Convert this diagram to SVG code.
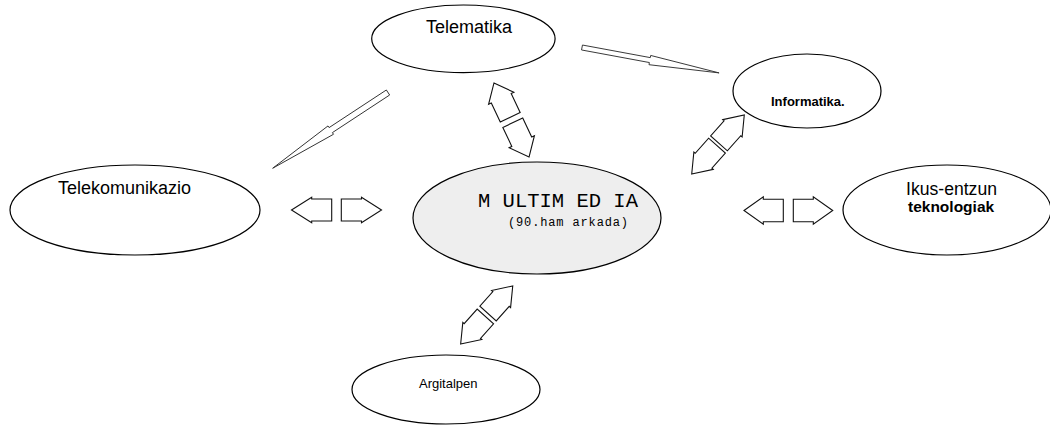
<svg xmlns="http://www.w3.org/2000/svg" width="1050" height="425" viewBox="0 0 1050 425">
<style>
.node{fill:#fff;stroke:#000;stroke-width:1.2}
.main{fill:#eeeeee;stroke:#000;stroke-width:1.2}
.lbl{font-family:"Liberation Sans",Arial,sans-serif;fill:#000}
.mono{font-family:"Liberation Mono","Courier New",monospace;fill:#000}
.arr{fill:#fff;stroke:#111;stroke-width:1.1;stroke-linejoin:miter}
.thin{fill:#fff;stroke:#333;stroke-width:0.9}
</style>
<rect width="1050" height="425" fill="#fff"/>
<g id="connectors">
  <polygon class="thin" transform="translate(582,47.5) rotate(10.5)" points="0,-2.5 69,-2.5 69,-4.7 139.4,0 69,4.7 69,2.5 0,2.5"/>
  <polygon class="thin" transform="translate(388,92.5) rotate(146.7)" points="0,-3 68.5,-3 68.5,-5 138,0 68.5,5 68.5,3 0,3"/>
  <g transform="translate(511.5,120) rotate(-25.3)">
    <polygon class="arr" points="0,-41 14,-24 11,-24 11,-3 -11,-3 -11,-24 -14,-24"/>
    <polygon class="arr" points="0,41 14,24 11,24 11,3 -11,3 -11,24 -14,24"/>
  </g>
  <g transform="translate(718,144.5) rotate(41.7)">
    <polygon class="arr" points="0,-39.5 13,-21.7 11.2,-21.7 11.2,-1.5 -11.2,-1.5 -11.2,-21.7 -13,-21.7"/>
    <polygon class="arr" points="0,39.5 13,21.7 11.2,21.7 11.2,1.5 -11.2,1.5 -11.2,21.7 -13,21.7"/>
  </g>
  <g transform="translate(486.7,315) rotate(41.9)">
    <polygon class="arr" points="0,-39 12.8,-21.5 11,-21.5 11,-2 -11,-2 -11,-21.5 -12.8,-21.5"/>
    <polygon class="arr" points="0,39 12.8,21.5 11,21.5 11,2 -11,2 -11,21.5 -12.8,21.5"/>
  </g>
  <polygon class="arr" points="291.5,210 311.7,197.2 311.7,199 331.7,199 331.7,221 311.7,221 311.7,222.8"/>
  <polygon class="arr" points="381.5,210 361.5,197.2 361.5,199 341.3,199 341.3,221 361.5,221 361.5,222.8"/>
  <polygon class="arr" points="744,210.5 763.3,196.7 763.3,199.3 783.3,199.3 783.3,221.7 763.3,221.7 763.3,224.3"/>
  <polygon class="arr" points="832.7,210.5 813.3,196.7 813.3,199.3 793.3,199.3 793.3,221.7 813.3,221.7 813.3,224.3"/>
</g>
<g id="telematika">
  <ellipse class="node" cx="463.4" cy="38.8" rx="91.7" ry="33.8"/>
  <text class="lbl" x="426" y="33" font-size="18">Telematika</text>
</g>
<g id="informatika">
  <ellipse class="node" cx="807" cy="91" rx="74" ry="37"/>
  <text class="lbl" x="771" y="106" font-size="13" font-weight="bold">Informatika.</text>
</g>
<g id="telekomunikazio">
  <ellipse class="node" cx="135" cy="210" rx="125" ry="45"/>
  <text class="lbl" x="58" y="194" font-size="18">Telekomunikazio</text>
</g>
<g id="multimedia">
  <ellipse class="main" cx="537" cy="218" rx="124" ry="56"/>
  <text class="mono" x="478" y="207" font-size="20.5" textLength="160" lengthAdjust="spacingAndGlyphs" xml:space="preserve">M ULTIM ED IA</text>
  <text class="mono" x="508" y="226" font-size="12" textLength="120" lengthAdjust="spacing" xml:space="preserve">(90.ham arkada)</text>
</g>
<g id="ikus-entzun">
  <ellipse class="node" cx="947" cy="210" rx="104" ry="45"/>
  <text class="lbl" x="906" y="195" font-size="17.6">Ikus-entzun</text>
  <text class="lbl" x="908" y="212" font-size="15.5" font-weight="bold">teknologiak</text>
</g>
<g id="argitalpen">
  <ellipse class="node" cx="446" cy="389.5" rx="94" ry="34.5"/>
  <text class="lbl" x="419" y="388" font-size="13">Argitalpen</text>
</g>
</svg>
